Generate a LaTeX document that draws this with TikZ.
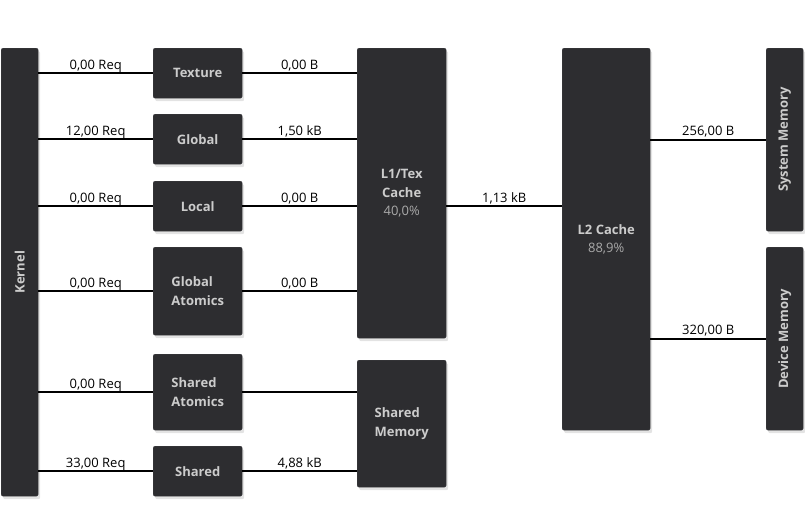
\documentclass[tikz,border=0pt]{standalone}
\usepackage{fontspec}
\setmainfont{Open Sans}
\usepackage{tikz}
\usetikzlibrary{shadows}
\usetikzlibrary{positioning}
\definecolor{boxfill}{RGB}{45,45,48}
\definecolor{boxedge}{RGB}{62,62,66}
\definecolor{boxtext}{RGB}{204,204,204}
\definecolor{pcttext}{RGB}{170,170,170}
\newcommand{\pct}[1]{{\mdseries\color{pcttext}#1}}
\tikzstyle{unit}=[draw=boxedge,fill=boxfill,rounded corners=2pt,inner sep=0pt,
                  anchor=north west,text=boxtext,align=left,
                  font=\bfseries\fontsize{13}{18.5}\selectfont,
                  drop shadow={opacity=0.22,shadow xshift=2pt,shadow yshift=-3pt}]
\tikzstyle{upright}=[rotate=90,text=boxtext,font=\bfseries\fontsize{13}{16}\selectfont]
\tikzstyle{link}=[line width=2pt,black]
\tikzstyle{rate}=[anchor=base,yshift=4pt,inner sep=0pt,font=\fontsize{13}{15}\selectfont]

\begin{document}
\begin{tikzpicture}[x=1pt,y=-1pt]
\useasboundingbox (0,0) rectangle (805,506);

\node[unit,minimum width=37pt,minimum height=448pt,
      label={[upright]center:Kernel}] (kernel) at (1,48) {};
\node[unit,minimum width=89pt,minimum height=50pt] (texture) at (153,48) {Texture};
\node[unit,minimum width=89pt,minimum height=50pt] (global) at (153,114) {Global};
\node[unit,minimum width=89pt,minimum height=50pt] (local) at (153,181) {Local};
\node[unit,minimum width=89pt,minimum height=88pt] (gatomics) at (153,247) {Global\\Atomics};
\node[unit,minimum width=89pt,minimum height=76pt] (satomics) at (153,354) {Shared\\Atomics};
\node[unit,minimum width=89pt,minimum height=50pt] (shared) at (153,446) {Shared};
\node[unit,minimum width=89pt,minimum height=290pt,align=center] (l1) at (357,48)
      {L1/Tex\\Cache\\\pct{40,0\%}};
\node[unit,minimum width=89pt,minimum height=127pt] (smem) at (357,360) {Shared\\Memory};
\node[unit,minimum width=88pt,minimum height=382pt,align=center] (l2) at (562,48)
      {L2 Cache\\\pct{88,9\%}};
\node[unit,minimum width=37pt,minimum height=183pt,
      label={[upright]center:System Memory}] (sysmem) at (766,48) {};
\node[unit,minimum width=37pt,minimum height=183pt,
      label={[upright]center:Device Memory}] (devmem) at (766,247) {};

\draw[link] (kernel.east |- texture) -- node[rate] {0,00 Req} (texture);
\draw[link] (kernel.east |- global) -- node[rate] {12,00 Req} (global);
\draw[link] (kernel.east |- local) -- node[rate] {0,00 Req} (local);
\draw[link] (kernel.east |- gatomics) -- node[rate] {0,00 Req} (gatomics);
\draw[link] (kernel.east |- satomics) -- node[rate] {0,00 Req} (satomics);
\draw[link] (kernel.east |- shared) -- node[rate] {33,00 Req} (shared);

\draw[link] (texture) -- node[rate] {0,00 B} (texture -| l1.west);
\draw[link] (global) -- node[rate] {1,50 kB} (global -| l1.west);
\draw[link] (local) -- node[rate] {0,00 B} (local -| l1.west);
\draw[link] (gatomics) -- node[rate] {0,00 B} (gatomics -| l1.west);
\draw[link] (satomics) -- (satomics -| smem.west);
\draw[link] (shared) -- node[rate] {4,88 kB} (shared -| smem.west);

\draw[link] (l1.east |- local) -- node[rate] {1,13 kB} (l2.west |- local);
\draw[link] (l2.east |- sysmem) -- node[rate] {256,00 B} (sysmem);
\draw[link] (l2.east |- devmem) -- node[rate] {320,00 B} (devmem);
\end{tikzpicture}
\end{document}
